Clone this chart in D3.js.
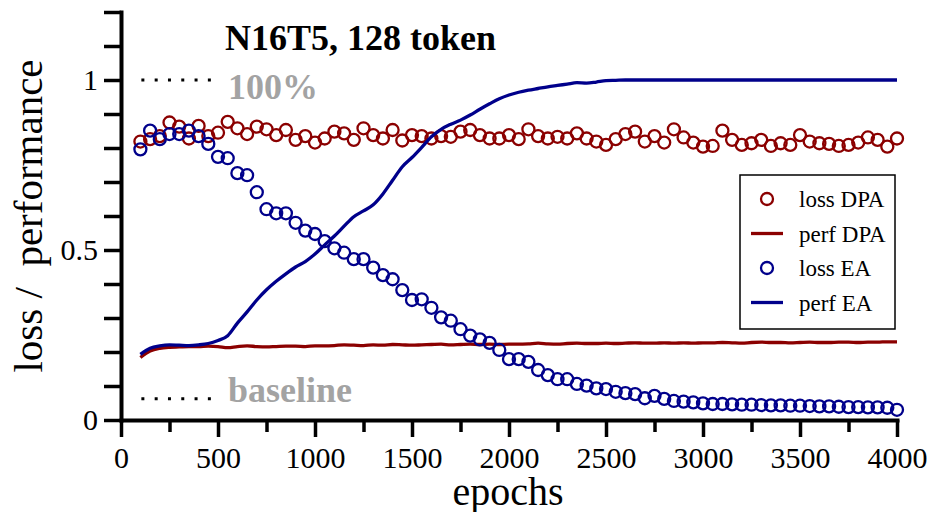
<!DOCTYPE html>
<html>
<head>
<meta charset="utf-8">
<script src="https://cdn.jsdelivr.net/npm/d3@7/dist/d3.min.js"></script>
<style>
  body { margin: 0; background: #fff; }
  text { font-family: "Liberation Serif", "Times New Roman", serif; }
</style>
</head>
<body>
<div id="chart"></div>
<script>
// sampled every 50 epochs, from 100 to 4000
var epochs = d3.range(100, 4001, 50);

var lossDPA = [
  0.819, 0.826, 0.835, 0.875, 0.863, 0.828, 0.865, 0.835, 0.845, 0.877, 0.858, 0.841, 0.863, 0.855, 0.838, 0.853, 0.824, 0.835, 0.816,
  0.828, 0.848, 0.843, 0.824, 0.858, 0.838, 0.828, 0.853, 0.822, 0.838, 0.835, 0.828, 0.835, 0.833, 0.848, 0.853, 0.838, 0.828, 0.828, 0.838,
  0.826, 0.855, 0.835, 0.828, 0.833, 0.828, 0.843, 0.828, 0.819, 0.809, 0.826, 0.841, 0.848, 0.819, 0.835, 0.816, 0.855, 0.831, 0.816, 0.804,
  0.806, 0.851, 0.824, 0.809, 0.814, 0.824, 0.806, 0.814, 0.809, 0.838, 0.819, 0.814, 0.812, 0.806, 0.809, 0.816, 0.831, 0.824, 0.804, 0.828
];
var perfDPA = [
  0.184, 0.203, 0.211, 0.214, 0.215, 0.216, 0.216, 0.217, 0.216, 0.213, 0.216, 0.218, 0.216, 0.215, 0.216, 0.217, 0.217, 0.216, 0.218,
  0.218, 0.219, 0.221, 0.220, 0.219, 0.221, 0.220, 0.222, 0.221, 0.220, 0.221, 0.222, 0.223, 0.221, 0.222, 0.223, 0.222, 0.223, 0.222, 0.223,
  0.223, 0.224, 0.226, 0.224, 0.223, 0.225, 0.226, 0.225, 0.225, 0.226, 0.225, 0.226, 0.227, 0.226, 0.226, 0.227, 0.226, 0.227, 0.226, 0.227,
  0.227, 0.228, 0.227, 0.226, 0.228, 0.229, 0.228, 0.228, 0.227, 0.228, 0.229, 0.228, 0.228, 0.229, 0.229, 0.228, 0.229, 0.229, 0.230, 0.230
];
var lossEA = [
  0.796, 0.851, 0.826, 0.841, 0.841, 0.851, 0.835, 0.812, 0.774, 0.770, 0.726, 0.720, 0.670, 0.620, 0.608, 0.608, 0.580, 0.557, 0.547,
  0.526, 0.505, 0.492, 0.473, 0.473, 0.448, 0.426, 0.414, 0.382, 0.353, 0.355, 0.330, 0.302, 0.292, 0.267, 0.248, 0.237, 0.227, 0.206, 0.179,
  0.179, 0.171, 0.147, 0.132, 0.120, 0.120, 0.106, 0.101, 0.093, 0.091, 0.083, 0.079, 0.076, 0.064, 0.071, 0.062, 0.056, 0.054, 0.052, 0.049,
  0.047, 0.047, 0.046, 0.045, 0.045, 0.044, 0.043, 0.043, 0.042, 0.042, 0.041, 0.040, 0.040, 0.039, 0.038, 0.038, 0.037, 0.037, 0.036, 0.030
];
var perfEA = [
  0.193, 0.211, 0.218, 0.221, 0.220, 0.219, 0.221, 0.225, 0.234, 0.248, 0.285, 0.318, 0.353, 0.383, 0.408, 0.430, 0.450, 0.466, 0.488,
  0.515, 0.541, 0.570, 0.598, 0.615, 0.633, 0.665, 0.705, 0.745, 0.772, 0.802, 0.833, 0.855, 0.870, 0.882, 0.897, 0.914, 0.930, 0.945, 0.956,
  0.964, 0.970, 0.975, 0.980, 0.984, 0.988, 0.992, 0.991, 0.994, 0.998, 0.999, 1.000, 1.000, 1.000, 1.000, 1.000, 1.000, 1.000, 1.000, 1.000,
  1.000, 1.000, 1.000, 1.000, 1.000, 1.000, 1.000, 1.000, 1.000, 1.000, 1.000, 1.000, 1.000, 1.000, 1.000, 1.000, 1.000, 1.000, 1.000, 1.000
];

var xTicks = d3.range(0, 4001, 250);
var xLabels = [0, 500, 1000, 1500, 2000, 2500, 3000, 3500, 4000];
var yTicks = [0, 0.1, 0.2, 0.3, 0.4, 0.5, 0.6, 0.7, 0.8, 0.9, 1, 1.1, 1.2];
var yLabels = [0, 0.5, 1];

// reference levels: 100% and the 1/16 baseline
var fullLevel = 1;
var baseLevel = 1 / 16;
var refFrom = 105, refTo = 485;

var legendNames = ["loss DPA", "perf DPA", "loss EA", "perf EA"];
var legendKinds = ["circle", "line", "circle", "line"];

var red = "#8b0000", blue = "#00008b";
var legendColors = [red, red, blue, blue];

var svg = d3.select("#chart")
    .append("svg")
    .attr("width", 932)
    .attr("height", 512);

var x = d3.scaleLinear().domain([0, 4000]).range([121, 897]);
var y = d3.scaleLinear().domain([0, 1.2]).range([420, 12]);

// axes
var gx = svg.append("g")
    .attr("transform", "translate(0,420)")
    .call(d3.axisBottom(x)
        .tickValues(xTicks)
        .tickSize(17)
        .tickSizeOuter(0)
        .tickPadding(10)
        .tickFormat(function (d) { return xLabels.indexOf(d) >= 0 ? d : ""; }));
gx.selectAll(".tick line")
    .attr("y2", function (d) { return d % 500 === 0 ? 17 : 12; })
    .attr("stroke-width", 3.5);

var gy = svg.append("g")
    .attr("transform", "translate(121,0)")
    .call(d3.axisLeft(y)
        .tickValues(yTicks)
        .tickSize(17)
        .tickSizeOuter(0)
        .tickPadding(6)
        .tickFormat(function (d) { return yLabels.indexOf(d) >= 0 ? d : ""; }));
gy.selectAll(".tick line").attr("stroke-width", 3.5);

[gx, gy].forEach(function (g) {
    g.select(".domain").attr("stroke-width", 4).attr("stroke-linecap", "square");
    g.selectAll(".tick text")
        .style("font-family", "'Liberation Serif', serif")
        .style("font-size", "30px")
        .attr("fill", "#000");
});

// dotted reference lines + labels
[[fullLevel, "100%", 19], [baseLevel, "baseline", 3]].forEach(function (r) {
    svg.append("line")
        .attr("x1", x(refFrom)).attr("x2", x(refTo))
        .attr("y1", y(r[0])).attr("y2", y(r[0]))
        .attr("stroke", "#000")
        .attr("stroke-width", 3)
        .attr("stroke-dasharray", "3,10.3");
    svg.append("text")
        .attr("x", 228)
        .attr("y", y(r[0]) + r[2])
        .attr("fill", "#a3a3a3")
        .style("font-size", "36px")
        .style("font-weight", "bold")
        .text(r[1]);
});

// series
function drawCircles(values, color) {
    svg.append("g")
        .selectAll("circle")
        .data(values)
        .enter()
        .append("circle")
        .attr("cx", function (d, i) { return x(epochs[i]); })
        .attr("cy", function (d) { return y(d); })
        .attr("r", 6)
        .attr("fill", "none")
        .attr("stroke", color)
        .attr("stroke-width", 2.3);
}
function drawLine(values, color) {
    var line = d3.line()
        .x(function (d, i) { return x(epochs[i]); })
        .y(function (d) { return y(d); })
        .curve(d3.curveMonotoneX);
    svg.append("path")
        .datum(values)
        .attr("d", line)
        .attr("fill", "none")
        .attr("stroke", color)
        .attr("stroke-width", 3.3);
}
drawCircles(lossDPA, red);
drawLine(perfDPA, red);
drawCircles(lossEA, blue);
drawLine(perfEA, blue);

// titles
svg.append("text")
    .attr("x", 225)
    .attr("y", 50)
    .style("font-size", "36px")
    .style("font-weight", "bold")
    .text("N16T5, 128 token");

svg.append("text")
    .attr("transform", "translate(42,216) rotate(-90)")
    .attr("text-anchor", "middle")
    .style("font-size", "41px")
    .style("white-space", "pre")
    .text("loss /  performance");

svg.append("text")
    .attr("x", 508)
    .attr("y", 505)
    .attr("text-anchor", "middle")
    .style("font-size", "40px")
    .text("epochs");

// legend
var legend = svg.append("g");
legend.append("rect")
    .attr("x", 740).attr("y", 175)
    .attr("width", 155).attr("height", 154)
    .attr("fill", "#fff")
    .attr("stroke", "#000")
    .attr("stroke-width", 1.5);

legendNames.forEach(function (name, i) {
    var cy = 199 + i * 34.5;
    if (legendKinds[i] === "circle") {
        legend.append("circle")
            .attr("cx", 767).attr("cy", cy).attr("r", 6)
            .attr("fill", "none")
            .attr("stroke", legendColors[i])
            .attr("stroke-width", 2.3);
    } else {
        legend.append("line")
            .attr("x1", 751).attr("x2", 783)
            .attr("y1", cy).attr("y2", cy)
            .attr("stroke", legendColors[i])
            .attr("stroke-width", 3.3);
    }
    legend.append("text")
        .attr("x", 799)
        .attr("y", cy + 8)
        .style("font-size", "23px")
        .text(name);
});
</script>
</body>
</html>
